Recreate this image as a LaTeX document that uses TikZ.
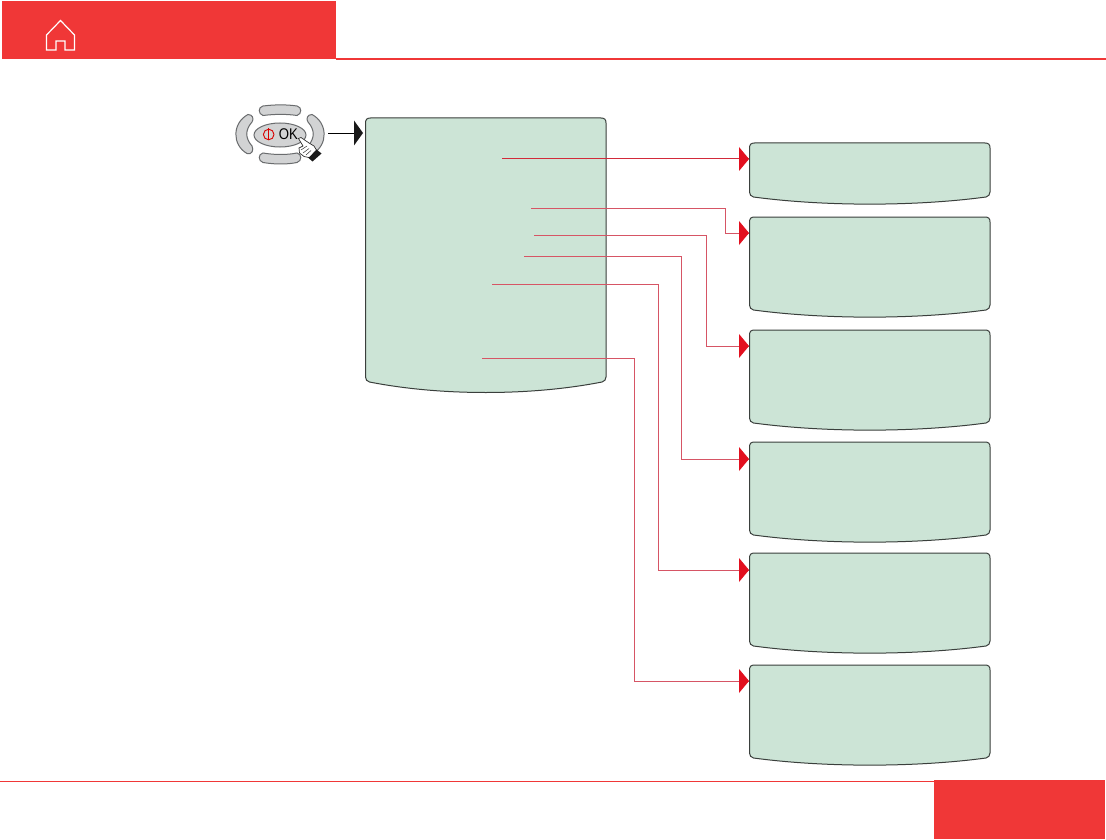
\documentclass[tikz,border=0pt]{standalone}
\usepackage{fontspec}
\setmainfont{Liberation Sans}
\definecolor{hdr}{HTML}{F03737}
\definecolor{panelfill}{HTML}{CCE4D6}
\definecolor{panelline}{HTML}{3A3F3C}
\definecolor{tip}{HTML}{E2101F}
\definecolor{wire}{HTML}{D65565}
\definecolor{wirestrong}{HTML}{D22A3A}
\definecolor{keyfill}{HTML}{D2D3D4}
\definecolor{keyline}{HTML}{6A6C6E}
\tikzset{
  x=1pt,y=-1pt,
  panelshape/.style={draw=panelline,fill=panelfill,line width=1pt},
  wireline/.style={draw=wire,line width=0.8pt},
  strongwire/.style={draw=wirestrong,line width=1pt},
  redtip/.style={fill=tip,draw=none},
  blacktip/.style={fill=black!90,draw=none},
  keyshape/.style={draw=keyline,fill=keyfill,line width=1pt},
  redblock/.style={fill=hdr,draw=none},
  redrule/.style={draw=hdr,line width=1.5pt},
  footrule/.style={draw=hdr,line width=0.9pt},
}
% #1 name, #2 left, #3 top, #4 right, #5 side-bottom, #6 curve control depth
\newcommand{\panelbox}[6]{%
  \path[panelshape] (#2+5,#3) -- (#4-5,#3) .. controls (#4-1.5,#3) and (#4,#3+1.5) .. (#4,#3+5)
    -- (#4,#5-4) .. controls (#4,#5-1) and (#4-1.5,#5) .. (#4-4,#5+1)
    .. controls (#4-75,#5+1+#6) and (#2+75,#5+1+#6) .. (#2+4,#5+1)
    .. controls (#2+1.5,#5) and (#2,#5-1) .. (#2,#5-4)
    -- (#2,#3+5) .. controls (#2,#3+1.5) and (#2+1.5,#3) .. (#2+5,#3) -- cycle;
}
\newcommand{\redarrowtip}[1]{%
  \path[redtip] (#1)++(-10,-12) -- (#1) -- ++(-10,12) -- cycle;
}
\begin{document}
\begin{tikzpicture}
\useasboundingbox (0,0) rectangle (1106,840);
\fill[white] (0,0) rectangle (1106,840);
% header and footer
\path[redblock] (2,1) rectangle (336,59.5);
\draw[redrule] (336,59.2) -- (1106,59.2);
\draw[footrule] (0,781.4) -- (934,781.4);
\path[redblock] (934,780) rectangle (1105,838.5);
% home icon
\draw[white,line width=1.2pt,line join=miter]
  (46.5,50) -- (46.5,35) -- (60.5,20.5) -- (74.5,35) -- (74.5,50) -- (65,50) -- (65,41) -- (56,41) -- (56,50) -- cycle;
% keypad
\path[keyshape] (263,106) .. controls (275,104.5) and (287,104.5) .. (297,106)
  .. controls (302,107) and (302,114) .. (297,115.5)
  .. controls (287,114) and (275,114) .. (263,115.5)
  .. controls (258,114) and (258,107) .. (263,106) -- cycle;
\path[keyshape] (263,153) .. controls (275,155) and (287,155) .. (297,153)
  .. controls (302,154) and (302,161) .. (297,162.5)
  .. controls (287,164.5) and (275,164.5) .. (263,162.5)
  .. controls (258,161) and (258,154) .. (263,153) -- cycle;
\path[keyshape] (248,114.5) .. controls (253,114.5) and (254,119) .. (252,122)
  .. controls (245,130) and (245,138) .. (252,146)
  .. controls (254,150) and (252,155) .. (247,153.5)
  .. controls (232,145) and (232,123) .. (248,114.5) -- cycle;
\path[keyshape] (312,114.5) .. controls (307,114.5) and (306,119) .. (308,122)
  .. controls (315,130) and (315,138) .. (308,146)
  .. controls (306,150) and (308,155) .. (313,153.5)
  .. controls (328,145) and (328,123) .. (312,114.5) -- cycle;
\path[keyshape] (280,135) ellipse [x radius=26,y radius=12];
\draw[red!85!black,line width=0.9pt] (268.7,134.5) circle [radius=5.3];
\draw[red!85!black,line width=0.9pt] (268.7,128.5) -- (268.7,140.5);
\node[inner sep=0,font=\fontsize{15.5}{15.5}\selectfont,text=black,xscale=0.85,transform shape] (oktext) at (288.5,134.5) {OK};
% pointing hand
\path[fill=white,draw=black!80,line width=0.7pt] (298.5,138.5) -- (301,137.5) -- (309,143) -- (314,146) -- (317,151) -- (311,158) -- (304,156.5) -- (299.5,153) -- (299,148) -- (303,146) -- cycle;
\draw[black!80,line width=0.5pt] (301,150) -- (307,146) (303,153) -- (309,148.5) (306,155) -- (311,150.5);
\path[fill=black!90] (316.5,149.5) -- (321.5,153.5) -- (312.5,161.5) -- (308.5,158) -- cycle;
% panels
\panelbox{main}{365.5}{118}{606}{381}{14}
\panelbox{p1}{749.5}{143}{990}{196}{9.5}
\panelbox{p2}{749.5}{217}{990}{309}{9.5}
\panelbox{p3}{749.5}{330}{990}{422}{9.5}
\panelbox{p4}{749.5}{442}{990}{534}{9.5}
\panelbox{p5}{749.5}{553}{990}{645}{9.5}
\panelbox{p6}{749.5}{665}{990}{757}{9.5}
% connector ends
\coordinate (keyout) at (328,133);
\coordinate (mainin) at (354,133);
\coordinate (mainintip) at (363,133);
\coordinate (s1) at (502,159);
\coordinate (s2) at (531,208);
\coordinate (s3) at (534,235);
\coordinate (s4) at (524,256);
\coordinate (s5) at (492,284);
\coordinate (s6) at (482,358);
\coordinate (t1) at (749,159);
\coordinate (t2) at (749,233);
\coordinate (t3) at (749,346);
\coordinate (t4) at (749,459);
\coordinate (t5) at (749,570);
\coordinate (t6) at (749,681);
% connectors
\draw[black,line width=0.8pt] (keyout) -- (mainin);
\path[blacktip] (354,120.5) -- (mainintip) -- (354,145.5) -- cycle;
\draw[strongwire] (s1) -- (t1);
\draw[wireline] (s2) -- (725,208) -- (725,233) -- (t2);
\draw[wireline] (s3) -- (706,235) -- (706,346) -- (t3);
\draw[wireline] (s4) -- (681,256) -- (681,459) -- (t4);
\draw[wireline] (s5) -- (658,284) -- (658,570) -- (t5);
\draw[wireline] (s6) -- (634,358) -- (634,681) -- (t6);
\redarrowtip{t1}\redarrowtip{t2}\redarrowtip{t3}\redarrowtip{t4}\redarrowtip{t5}\redarrowtip{t6}
\end{tikzpicture}
\end{document}
